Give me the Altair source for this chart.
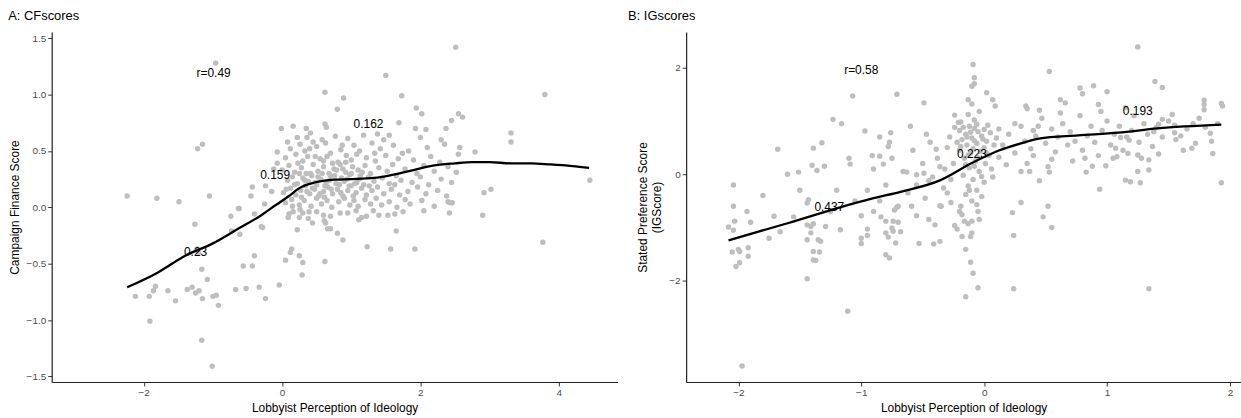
import altair as alt
import pandas as pd

FONT = "Liberation Sans"

# ---------------- Panel A: CFscores ----------------
cf_points = [
    (-0.96, 1.28), (2.51, 1.42), (1.50, 1.17), (0.62, 1.02), (0.89, 0.97), (1.73, 0.99), (3.80, 1.00),
    (0.80, 0.87), (1.94, 0.88), (2.02, 0.83), (2.55, 0.83), (2.61, 0.80), (3.31, 0.66), (3.31, 0.58),
    (-1.22, 0.52), (-1.15, 0.56), (-0.01, 0.70), (0.16, 0.72), (0.35, 0.70), (0.62, 0.74), (0.64, 0.71),
    (1.69, 0.75), (1.93, 0.70), (2.08, 0.69), (2.37, 0.70), (2.45, 0.77), (2.79, 0.49), (2.55, 0.47),
    (2.57, 0.53), (4.45, 0.24), (2.92, 0.13), (3.02, 0.16), (-2.24, 0.10), (-1.81, 0.08), (-1.49, 0.05),
    (-1.05, 0.10), (-0.62, -0.01), (-0.45, 0.10), (-0.43, 0.18), (-0.24, 0.19), (-0.15, 0.14),
    (-0.12, 0.34), (-0.07, 0.39), (-0.07, 0.49),
    (-2.12, -0.79), (-1.92, -0.79), (-1.91, -1.01), (-1.83, -0.70), (-1.86, -0.74), (-1.65, -0.74),
    (-1.54, -0.83), (-1.37, -0.73), (-1.30, -0.71), (-1.25, -0.76), (-1.20, -0.74), (-1.16, -0.55),
    (-1.15, -0.81), (-1.08, -0.64), (-1.00, -0.79), (-0.95, -0.78), (-0.92, -0.87), (-1.16, -1.18),
    (-1.01, -1.41), (-1.26, -0.15), (-1.23, -0.37), (-1.21, -0.40), (-0.74, -0.08), (-0.73, -0.21),
    (-0.67, -0.73), (-0.61, -0.24), (-0.63, -0.01), (-0.56, -0.52), (-0.52, -0.72), (-0.43, -0.52),
    (-0.40, -0.43), (-0.40, -0.06), (-0.33, -0.71), (-0.30, -0.17), (-0.28, -0.18), (-0.24, -0.81),
    (-0.25, 0.03), (-0.04, -0.69), (0.05, -0.47), (0.12, -0.40), (0.14, -0.37), (0.22, -0.20),
    (0.25, -0.43), (0.30, -0.49), (0.29, -0.60), (0.44, -0.14), (0.62, -0.48), (0.63, -0.14),
    (0.66, -0.19), (0.70, -0.19), (0.80, -0.23), (0.88, -0.29), (1.23, -0.35), (1.57, -0.37),
    (1.65, -0.21), (1.92, -0.37), (2.05, -0.03), (2.42, -0.05), (2.90, -0.07), (3.77, -0.31),
    (0.09, -0.09), (0.16, -0.04), (0.25, -0.09), (0.30, -0.05), (0.39, -0.04), (0.60, -0.07),
    (0.61, -0.12), (0.84, -0.05), (1.07, -0.03), (1.11, -0.11), (1.22, -0.08), (1.53, -0.07),
    (1.63, -0.06), (2.40, 0.05), (2.46, 0.04),
    (0.22, 0.62), (0.41, 0.66), (0.58, 0.60), (0.77, 0.63), (0.95, 0.61), (1.18, 0.64), (1.38, 0.65),
    (1.47, 0.60), (1.55, 0.64), (2.00, 0.62), (2.30, 0.60), (0.08, 0.58),
    (0.12, 0.52), (0.26, 0.56), (0.33, 0.50), (0.50, 0.54), (0.63, 0.57), (0.85, 0.51), (1.04, 0.55),
    (1.12, 0.50), (1.30, 0.57), (1.42, 0.52), (1.61, 0.55), (1.83, 0.50), (2.10, 0.53), (2.35, 0.56),
    (0.45, 0.58),
    (0.05, 0.44), (0.20, 0.47), (0.30, 0.41), (0.37, 0.45), (0.55, 0.43), (0.70, 0.48), (0.81, 0.40),
    (0.93, 0.46), (1.00, 0.42), (1.08, 0.47), (1.22, 0.44), (1.35, 0.41), (1.50, 0.46), (1.68, 0.43),
    (1.74, 0.48), (1.90, 0.42), (2.15, 0.45), (2.28, 0.40), (0.60, 0.41),
    (0.00, 0.33), (0.10, 0.37), (0.18, 0.31), (0.28, 0.35), (0.35, 0.30), (0.45, 0.38), (0.52, 0.32),
    (0.60, 0.36), (0.68, 0.30), (0.75, 0.34), (0.84, 0.38), (0.92, 0.31), (1.02, 0.36), (1.10, 0.33),
    (1.20, 0.37), (1.28, 0.30), (1.40, 0.35), (1.52, 0.32), (1.60, 0.38), (1.78, 0.34), (1.95, 0.30),
    (2.05, 0.37), (2.20, 0.32), (2.40, 0.36), (2.52, 0.31),
    (0.08, 0.24), (0.15, 0.27), (0.22, 0.21), (0.30, 0.26), (0.38, 0.23), (0.43, 0.28), (0.50, 0.20),
    (0.56, 0.25), (0.64, 0.22), (0.70, 0.28), (0.78, 0.21), (0.86, 0.26), (0.90, 0.23), (0.98, 0.29),
    (1.05, 0.21), (1.12, 0.25), (1.18, 0.20), (1.25, 0.27), (1.33, 0.23), (1.45, 0.26), (1.55, 0.21),
    (1.65, 0.28), (1.72, 0.24), (1.88, 0.22), (2.00, 0.27), (2.12, 0.20), (2.30, 0.25), (2.45, 0.22),
    (0.02, 0.13), (0.12, 0.17), (0.20, 0.11), (0.27, 0.15), (0.34, 0.19), (0.40, 0.12), (0.47, 0.16),
    (0.53, 0.10), (0.60, 0.14), (0.66, 0.18), (0.73, 0.12), (0.80, 0.16), (0.88, 0.10), (0.95, 0.15),
    (1.00, 0.19), (1.07, 0.13), (1.15, 0.17), (1.22, 0.11), (1.30, 0.15), (1.38, 0.18), (1.47, 0.12),
    (1.58, 0.16), (1.70, 0.11), (1.82, 0.14), (1.96, 0.18), (2.08, 0.12), (2.25, 0.15), (2.38, 0.10),
    (0.05, 0.04), (0.14, 0.07), (0.25, 0.02), (0.32, 0.06), (0.42, 0.01), (0.50, 0.08), (0.57, 0.03),
    (0.65, 0.06), (0.72, 0.00), (0.82, 0.05), (0.90, 0.08), (0.98, 0.02), (1.04, 0.06), (1.10, 0.01),
    (1.20, 0.07), (1.28, 0.03), (1.36, 0.08), (1.44, 0.02), (1.55, 0.05), (1.66, 0.00), (1.78, 0.07),
    (1.85, 0.03), (2.02, 0.06), (2.20, 0.01), (2.43, 0.04),
    (0.10, -0.06), (0.26, -0.02), (0.38, -0.10), (0.50, -0.04), (0.70, -0.08), (0.95, -0.05),
    (1.15, -0.09), (1.32, -0.03), (1.40, -0.07), (1.75, -0.04),
    (0.33, 0.24), (0.41, 0.30), (0.48, 0.22), (0.58, 0.30), (0.62, 0.19), (0.69, 0.24), (0.76, 0.28),
    (0.83, 0.20), (0.94, 0.25), (1.00, 0.30), (1.08, 0.22), (0.36, 0.14), (0.55, 0.12), (0.85, 0.13),
    (1.13, 0.28), (0.25, 0.30), (0.18, 0.20), (0.92, 0.40), (0.65, 0.45), (0.40, 0.52),
    (0.44, 0.17), (0.52, 0.27), (0.71, 0.16), (0.79, 0.33), (0.97, 0.19), (1.16, 0.31), (0.28, 0.09),
    (0.61, 0.09), (0.88, 0.34), (1.03, 0.10), (0.23, 0.39), (0.73, 0.39), (1.26, 0.19), (0.15, 0.01),
    (0.48, 0.45), (1.34, 0.48), (0.06, 0.16), (0.36, 0.62), (0.87, 0.55), (1.63, 0.20),
]

cf_curve_x = [-2.24, -1.8, -1.4, -1.0, -0.66, -0.3, -0.09, 0.1, 0.25, 0.47, 0.76, 1.0, 1.33, 1.61,
              1.9, 2.18, 2.5, 2.75, 3.0, 3.31, 3.6, 3.88, 4.2, 4.44]
cf_curve_y = [-0.71, -0.58, -0.43, -0.32, -0.20, -0.07, 0.02, 0.10, 0.17, 0.22, 0.245, 0.25, 0.26, 0.29,
              0.33, 0.37, 0.39, 0.40, 0.40, 0.39, 0.39, 0.38, 0.365, 0.35]

cf_labels = ["r=0.49", "0.162", "0.159", "0.23"]
cf_label_x = [-0.99, 1.25, -0.10, -1.25]
cf_label_y = [1.19, 0.74, 0.29, -0.40]

# ---------------- Panel B: IGscores ----------------
ig_points = [
    (1.25, 2.39), (-0.09, 2.06), (-0.08, 1.81), (-0.10, 1.65), (-0.08, 1.70), (0.53, 1.93), (1.39, 1.74),
    (1.45, 1.63), (0.89, 1.66), (0.78, 1.62), (0.80, 1.51), (1.00, 1.55), (-1.07, 1.47), (-0.71, 1.50),
    (-0.49, 1.34), (0.02, 1.53), (0.07, 1.40), (0.09, 1.28), (-0.13, 1.40), (-0.10, 1.32), (0.34, 1.28),
    (0.35, 1.23), (0.62, 1.40), (0.66, 1.34), (0.93, 1.31), (1.79, 1.39), (1.79, 1.31), (1.79, 1.21),
    (1.93, 1.33), (1.94, 1.28), (1.45, 1.03), (1.53, 1.12), (-1.23, 1.03), (-1.16, 0.95), (-1.32, 0.59),
    (-0.97, 0.81), (-1.68, 0.47), (-2.04, -0.20), (-1.51, 0.04), (-1.39, 0.49), (-1.40, 0.17),
    (-1.36, 0.07), (-1.09, 0.19), (-0.85, 0.70), (-0.77, 0.60), (-0.78, 0.52), (-0.85, 0.34),
    (-0.76, 0.78), (-0.91, 0.35), (-0.82, 0.19), (-0.47, 0.75), (-0.39, 0.47), (-0.63, 0.04),
    (-0.55, -0.01), (-0.49, 0.02), (-0.45, -0.12), (-0.33, -0.26), (-0.36, 0.14), (-0.24, 1.11),
    (-0.21, 0.97), (0.40, 0.82), (0.44, 0.90), (1.11, 0.69), (1.18, 0.64), (1.38, 0.80), (1.42, 0.94),
    (1.55, 0.78), (1.56, 0.65), (1.72, 0.58), (1.69, 0.49), (1.84, 0.77), (1.86, 0.39), (1.93, -0.16),
    (1.34, 0.27), (1.34, 0.08), (1.25, 0.36), (1.25, 0.05), (1.27, -0.16), (1.15, -0.11), (1.19, -0.14),
    (1.17, 0.39), (1.07, 0.49), (1.08, 0.33), (0.99, 0.16), (0.83, 0.04), (0.94, -0.28), (0.53, 0.04),
    (0.52, 0.14), (0.45, -0.12), (0.37, 0.05),
    (-2.04, -0.60), (-2.08, -0.99), (-2.04, -1.05), (-2.03, -0.88), (-2.05, -1.46), (-2.00, -1.41),
    (-1.99, -1.45), (-2.02, -1.73), (-1.99, -1.66), (-1.93, -0.70), (-1.92, -1.38), (-1.92, -1.54),
    (-1.71, -0.79), (-1.66, -1.08), (-1.97, -3.60), (-1.44, -0.54), (-1.43, -0.48), (-1.44, -0.95),
    (-1.41, -0.98), (-1.39, -0.93), (-1.41, -1.10), (-1.44, -1.23), (-1.35, -1.23), (-1.33, -1.26),
    (-1.39, -1.45), (-1.39, -1.61), (-1.37, -1.62), (-1.34, -1.46), (-1.44, -1.96), (-1.29, -0.98),
    (-1.17, -1.04), (-1.11, -2.57), (-1.00, -0.78), (-1.00, -1.20), (-1.00, -1.30), (-0.95, -1.03),
    (-0.95, -1.15), (-0.84, -0.80), (-0.80, -0.88), (-0.80, -1.10), (-0.78, -1.18), (-0.75, -1.01),
    (-0.74, -1.07), (-0.74, -0.88), (-0.72, -1.29), (-0.68, -1.08), (-0.80, -1.51), (-0.77, -1.57),
    (-0.71, -0.62), (-0.73, -0.67), (-0.59, -0.60), (-0.55, -0.78), (-0.53, -1.30), (-0.40, -0.95),
    (-0.41, -1.31), (-0.36, -1.26), (-0.36, -0.59), (-0.24, -0.96), (-0.22, -1.03), (-0.20, -0.70),
    (-0.18, -0.76), (-0.18, -1.17), (-0.16, -0.88), (-0.13, -0.93), (-0.10, -0.88), (-0.15, -1.41),
    (-0.11, -1.65), (-0.09, -1.86), (-0.05, -2.13), (-0.15, -2.30), (-0.10, -1.10), (-0.11, -1.17),
    (-0.06, -0.57), (-0.05, -0.70), (-0.04, -0.85), (0.23, -0.72), (0.24, -1.15), (0.24, -2.15),
    (0.30, -0.53), (0.48, -0.80), (0.52, -0.60), (0.55, -1.00), (1.34, -2.15), (-0.27, -0.53),
    (-0.19, -0.60),
    (-0.20, 0.82), (-0.15, 0.75), (-0.12, 0.90), (-0.08, 0.86), (-0.05, 0.80), (-0.18, 0.65),
    (-0.10, 0.68), (-0.02, 0.72), (0.02, 0.62), (-0.14, 0.55), (-0.06, 0.58), (0.00, 0.50),
    (-0.20, 0.45), (-0.11, 0.40), (-0.03, 0.43), (0.04, 0.35), (-0.16, 0.30), (-0.07, 0.25),
    (0.01, 0.20), (-0.12, 0.12), (-0.04, 0.05), (-0.17, -0.02), (-0.09, -0.10), (0.00, -0.15),
    (-0.13, -0.22), (-0.06, -0.30), (-0.15, -0.38), (-0.02, -0.42), (-0.10, -0.50), (-0.19, 0.98),
    (-0.08, 1.02), (0.03, 0.92), (-0.13, 1.12), (0.05, 0.78), (-0.22, 0.60), (-0.25, 0.20),
    (-0.27, -0.10), (0.06, 0.10), (0.08, 0.55), (0.10, 0.68), (-0.04, 1.18), (-0.24, 0.88),
    (0.12, 0.32), (-0.30, 0.50), (0.07, -0.05),
    (-0.17, 0.88), (-0.11, 0.79), (-0.06, 0.94), (0.00, 0.84), (-0.14, 0.70), (-0.08, 0.63),
    (-0.01, 0.66), (-0.19, 0.52), (-0.09, 0.48), (0.02, 0.40), (-0.13, 0.36), (-0.05, 0.31),
    (-0.15, 0.18), (-0.08, 0.15), (-0.02, -0.04), (-0.12, -0.30),
    (0.15, 0.55), (0.20, 0.75), (0.25, 0.40), (0.30, 0.90), (0.33, 0.62), (0.38, 0.48), (0.42, 0.72),
    (0.47, 1.05), (0.50, 0.58), (0.55, 0.85), (0.58, 0.42), (0.60, 0.70), (0.64, 0.95), (0.68, 0.55),
    (0.70, 0.80), (0.74, 0.62), (0.78, 1.10), (0.80, 0.45), (0.84, 0.72), (0.87, 0.90), (0.90, 0.60),
    (0.93, 0.35), (0.96, 0.82), (1.00, 1.00), (1.03, 0.55), (1.06, 0.75), (1.10, 0.90), (1.13, 0.45),
    (1.16, 0.70), (1.20, 0.82), (1.22, 1.10), (1.26, 0.60), (1.30, 0.95), (1.33, 0.75), (1.37, 0.52),
    (1.40, 0.88), (1.45, 0.70), (1.50, 1.00), (1.55, 0.92), (1.60, 0.72), (1.65, 0.85), (1.70, 0.95),
    (1.75, 1.05), (1.80, 0.88), (1.85, 0.62), (1.90, 0.95), (1.62, 0.45), (0.35, 0.20), (0.55, 0.28),
    (0.72, 0.25), (0.88, 0.15), (1.05, 0.30), (0.25, 0.95), (0.45, 1.20), (0.62, 1.15), (0.95, 1.18),
    (1.15, 1.25), (0.18, 0.18), (0.30, 0.05), (0.12, 0.85), (0.40, 0.35), (1.42, 0.38), (1.28, 0.30),
    (0.82, 0.30),
    (-0.95, -0.30), (-0.90, 0.10), (-0.85, -0.50), (-0.80, -0.20), (-0.75, 0.30), (-0.70, -0.60),
    (-0.66, 0.05), (-0.62, -0.35), (-0.58, 0.45), (-0.55, -0.20), (-0.50, 0.20), (-0.48, -0.45),
    (-0.44, 0.60), (-0.42, -0.05), (-0.38, 0.30), (-0.35, -0.60), (-0.32, 0.10), (-0.30, -0.35),
    (-0.28, 0.70), (-0.60, 0.90), (-0.70, -0.90), (-0.45, -0.85), (-0.90, -0.70), (-1.05, -0.50),
    (-1.10, 0.30), (-1.20, -0.30), (-1.30, 0.15), (-1.25, -0.70), (-1.50, -0.30), (-1.55, -0.80),
    (-1.60, 0.00), (-1.80, -0.40), (-1.90, -0.90), (-1.75, -1.20),
]

ig_curve_x = [-2.08, -1.6, -1.2, -0.9, -0.68, -0.355, -0.1, 0.125, 0.3, 0.445, 0.765, 1.09, 1.41, 1.93]
ig_curve_y = [-1.24, -0.92, -0.64, -0.45, -0.33, -0.11, 0.21, 0.45, 0.58, 0.67, 0.73, 0.78, 0.86, 0.93]

ig_labels = ["r=0.58", "0.193", "0.223", "0.437"]
ig_label_x = [-1.0, 1.25, -0.10, -1.26]
ig_label_y = [1.96, 1.19, 0.38, -0.61]

PT_COLOR = "#BEBEBE"


def panel(points, cx, cy, labels, lx, ly, xdom, ydom, xvals, yvals, yfmt, ytitle, title, w, h, title_dx):
    pts = pd.DataFrame(points, columns=["x", "y"])
    curve = pd.DataFrame({"x": cx, "y": cy})
    lab = pd.DataFrame({"x": lx, "y": ly, "t": labels})
    xs = alt.Scale(domain=xdom, nice=False, zero=False)
    ys = alt.Scale(domain=ydom, nice=False, zero=False)
    xax = alt.Axis(values=xvals, title="Lobbyist Perception of Ideology", format="d", grid=False)
    yax = alt.Axis(values=yvals, title=ytitle, format=yfmt, grid=False)
    p = alt.Chart(pts).mark_circle(size=30, color=PT_COLOR, opacity=1).encode(
        x=alt.X("x:Q", scale=xs, axis=xax),
        y=alt.Y("y:Q", scale=ys, axis=yax),
    )
    l = alt.Chart(curve).mark_line(color="black", strokeWidth=2.3, interpolate="monotone").encode(
        x=alt.X("x:Q", scale=xs), y=alt.Y("y:Q", scale=ys)
    )
    t = alt.Chart(lab).mark_text(font=FONT, fontSize=12, color="black").encode(
        x=alt.X("x:Q", scale=xs), y=alt.Y("y:Q", scale=ys), text="t:N"
    )
    return alt.layer(p, l, t).properties(
        width=w, height=h,
        title=alt.TitleParams(title, anchor="start", fontSize=13, fontWeight="normal", font=FONT,
                              offset=9, dx=title_dx, color="black"),
    )


A = panel(cf_points, cf_curve_x, cf_curve_y, cf_labels, cf_label_x, cf_label_y,
          [-3.33, 4.85], [-1.55, 1.555], [-2, 0, 2, 4], [-1.5, -1.0, -0.5, 0.0, 0.5, 1.0, 1.5], ".1f",
          "Campaign Finance Score", "A: CFscores", 569, 352, 0)
B = panel(ig_points, ig_curve_x, ig_curve_y, ig_labels, ig_label_x, ig_label_y,
          [-2.425, 2.09], [-3.9, 2.67], [-2, -1, 0, 1, 2], [-2, 0, 2], "d",
          ["Stated Preference Score", "(IGScore)"], "B: IGscores", 558, 352, -9)

chart = alt.hconcat(A, B, spacing=10).properties(
    padding={"left": 8, "top": 9, "right": 0, "bottom": 3},
    background="white",
).configure_view(
    strokeWidth=0
).configure_axis(
    grid=False, domainColor="#222222", domainWidth=1.2, tickColor="#333333", tickSize=4, tickWidth=1,
    labelColor="#4D4D4D", labelFontSize=10, labelFont=FONT, labelPadding=2,
    titleFont=FONT, titleFontSize=12, titleFontWeight="normal", titleColor="black", titlePadding=5,
)

chart.save("out.html", embed_options={"renderer": "svg", "actions": False})
